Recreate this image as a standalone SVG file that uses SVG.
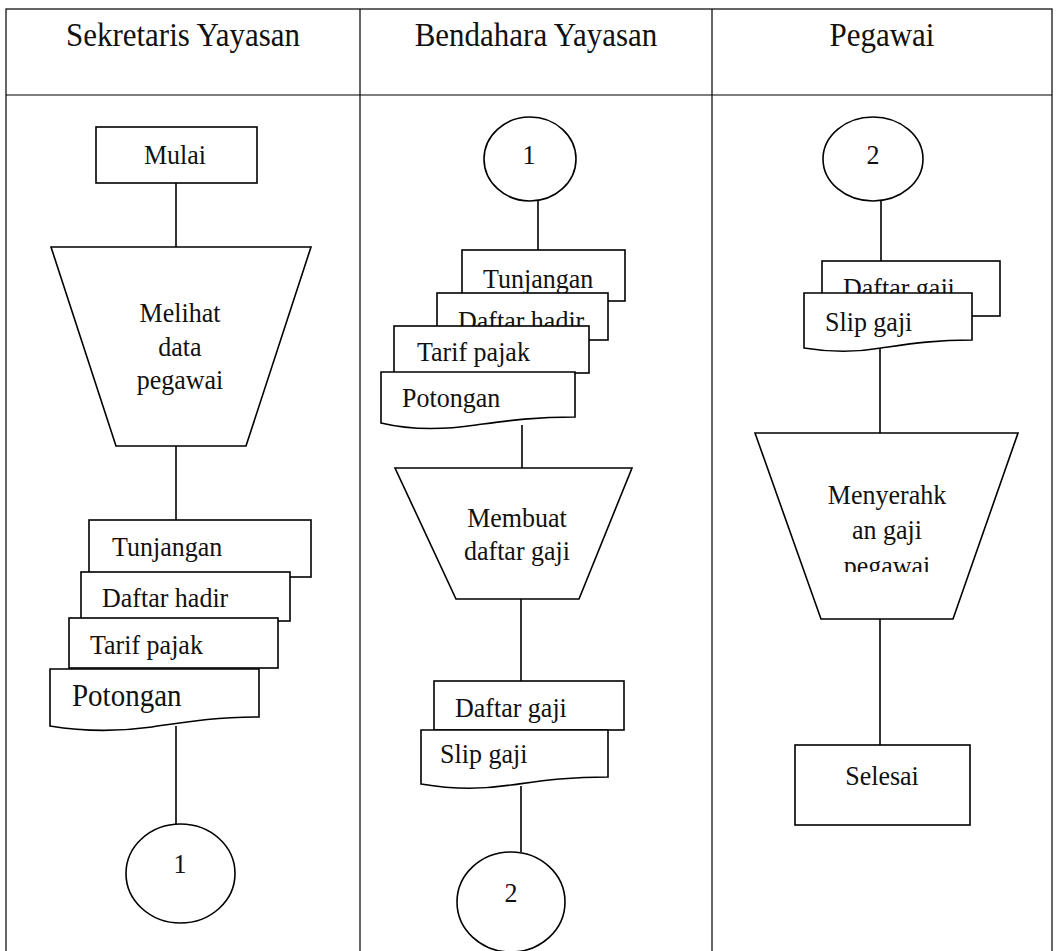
<svg xmlns="http://www.w3.org/2000/svg" width="1056" height="951" viewBox="0 0 1056 951">
  <style>
    .frame { stroke: #000; stroke-width: 1.2; fill: none; }
    .shape { fill: #fff; stroke: #000; stroke-width: 1.6; }
    .conn { stroke: #000; stroke-width: 1.6; fill: none; }
    text { font-family: "Liberation Serif", "Times New Roman", serif; fill: #111;
           transform-box: fill-box; transform-origin: 50% 50%; transform: scaleY(1.08); }
    .head { font-size: 31px; text-anchor: middle; }
    .lbl { font-size: 26px; }
    .mid { text-anchor: middle; }
  </style>
  <defs>
    <clipPath id="clipMenyerahkan">
      <rect x="740" y="430" width="300" height="142"/>
    </clipPath>
  </defs>

  <!-- swimlane table -->
  <g id="table">
    <rect class="frame" x="6" y="9" width="1046" height="960"/>
    <line class="frame" x1="6" y1="95" x2="1052" y2="95"/>
    <line class="frame" x1="360" y1="9" x2="360" y2="951"/>
    <line class="frame" x1="712" y1="9" x2="712" y2="951"/>
    <text class="head" x="183" y="45">Sekretaris Yayasan</text>
    <text class="head" x="536" y="45">Bendahara Yayasan</text>
    <text class="head" x="882" y="45">Pegawai</text>
  </g>

  <!-- connectors -->
  <g id="connectors">
    <line class="conn" x1="176" y1="183" x2="176" y2="247"/>
    <line class="conn" x1="176" y1="446" x2="176" y2="520"/>
    <line class="conn" x1="176" y1="726" x2="176" y2="824"/>
    <line class="conn" x1="538" y1="201" x2="538" y2="250"/>
    <line class="conn" x1="522" y1="425" x2="522" y2="468"/>
    <line class="conn" x1="521" y1="599" x2="521" y2="681"/>
    <line class="conn" x1="521" y1="786" x2="521" y2="852"/>
    <line class="conn" x1="881" y1="201" x2="881" y2="261"/>
    <line class="conn" x1="880" y1="348" x2="880" y2="433"/>
    <line class="conn" x1="880" y1="619" x2="880" y2="745"/>
  </g>

  <!-- Sekretaris Yayasan lane -->
  <g id="mulai">
    <rect class="shape" x="96" y="127" width="161" height="56"/>
    <text class="lbl mid" x="175" y="163">Mulai</text>
  </g>
  <g id="melihat-data">
    <polygon class="shape" points="51,247 311,247 246,446 116,446"/>
    <text class="lbl mid" x="180" y="321">Melihat</text>
    <text class="lbl mid" x="180" y="355">data</text>
    <text class="lbl mid" x="180" y="388">pegawai</text>
  </g>
  <g id="docs-sekretaris">
    <rect class="shape" x="89" y="520" width="222" height="57"/>
    <text class="lbl" x="112" y="555">Tunjangan</text>
    <rect class="shape" x="81" y="572" width="209" height="49"/>
    <text class="lbl" x="102" y="606">Daftar hadir</text>
    <rect class="shape" x="69" y="618" width="209" height="50"/>
    <text class="lbl" x="90" y="653">Tarif pajak</text>
    <path class="shape" d="M50,669 H259 V717 C212,717 186,722 152,727 C116,732 80,731 50,726 Z"/>
    <text class="lbl" x="72" y="705" style="font-size:29px">Potongan</text>
  </g>
  <g id="konektor-1-keluar">
    <ellipse class="shape" cx="180.5" cy="873.5" rx="54.5" ry="49.5"/>
    <text class="lbl mid" x="180" y="872">1</text>
  </g>

  <!-- Bendahara Yayasan lane -->
  <g id="konektor-1-masuk">
    <ellipse class="shape" cx="530" cy="159" rx="46" ry="42"/>
    <text class="lbl mid" x="529" y="163">1</text>
  </g>
  <g id="docs-bendahara">
    <rect class="shape" x="462" y="250" width="163" height="51"/>
    <text class="lbl" x="483" y="287">Tunjangan</text>
    <rect class="shape" x="437" y="293" width="171" height="47"/>
    <text class="lbl" x="458" y="329">Daftar hadir</text>
    <rect class="shape" x="394" y="326" width="195" height="47"/>
    <text class="lbl" x="417" y="360">Tarif pajak</text>
    <path class="shape" d="M381,372 H575 V417 C532,417 506,421 476,425 C442,430 410,430 381,423 Z"/>
    <text class="lbl" x="402" y="406">Potongan</text>
  </g>
  <g id="membuat-daftar-gaji">
    <polygon class="shape" points="395,468 632,468 579,599 456,599"/>
    <text class="lbl mid" x="517" y="526">Membuat</text>
    <text class="lbl mid" x="517" y="559">daftar gaji</text>
  </g>
  <g id="docs-gaji-bendahara">
    <rect class="shape" x="434" y="681" width="190" height="49"/>
    <text class="lbl" x="455" y="716">Daftar gaji</text>
    <path class="shape" d="M421,730 H608 V777 C566,777 541,781 511,785 C479,790 450,789 421,784 Z"/>
    <text class="lbl" x="440" y="762">Slip gaji</text>
  </g>
  <g id="konektor-2-keluar">
    <ellipse class="shape" cx="511" cy="902" rx="54" ry="50"/>
    <text class="lbl mid" x="511" y="901">2</text>
  </g>

  <!-- Pegawai lane -->
  <g id="konektor-2-masuk">
    <ellipse class="shape" cx="873" cy="159" rx="50" ry="42"/>
    <text class="lbl mid" x="873" y="163">2</text>
  </g>
  <g id="docs-pegawai">
    <rect class="shape" x="822" y="261" width="178" height="55"/>
    <text class="lbl" x="843" y="296">Daftar gaji</text>
    <path class="shape" d="M804,293 H972 V340 C933,340 909,344 881,348 C853,353 828,352 804,348 Z"/>
    <text class="lbl" x="825" y="330">Slip gaji</text>
  </g>
  <g id="menyerahkan-gaji">
    <polygon class="shape" points="755,433 1018,433 953,619 821,619"/>
    <g clip-path="url(#clipMenyerahkan)">
      <text class="lbl mid" x="887" y="503">Menyerahk</text>
      <text class="lbl mid" x="887" y="538">an gaji</text>
      <text class="lbl mid" x="887" y="574">pegawai</text>
    </g>
  </g>
  <g id="selesai">
    <rect class="shape" x="795" y="745" width="175" height="80"/>
    <text class="lbl mid" x="882" y="784">Selesai</text>
  </g>
</svg>
